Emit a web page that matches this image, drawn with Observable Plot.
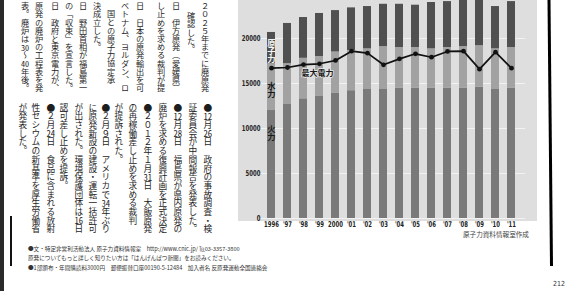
<!DOCTYPE html>
<html><head><meta charset="utf-8">
<script src="https://cdn.jsdelivr.net/npm/d3@7"></script>
<script src="https://cdn.jsdelivr.net/npm/@observablehq/plot@0.6"></script>
<style>
html,body{margin:0;padding:0;background:#fff;}
body{position:relative;width:571px;height:291px;overflow:hidden;font-family:"Noto Sans CJK JP",sans-serif;color:#222;}
#panel{position:absolute;left:238px;top:0;width:299px;height:221px;background:#dedede;}
#chart{position:absolute;left:236px;top:0;}
#deco{position:absolute;left:0;top:0;z-index:30;pointer-events:none;}
#pg{position:absolute;left:553px;top:280px;font-size:7px;color:#333;white-space:nowrap;font-family:'DejaVu Sans Condensed',sans-serif;}
.col{position:absolute;writing-mode:vertical-rl;line-height:1;white-space:nowrap;color:#1e1e1e;}
.up{font-size:8.2px;}
.lo{font-size:8.7px;}
.tcy{text-combine-upright:all;}
.foot{position:absolute;left:28px;font-size:5.6px;white-space:nowrap;color:#333;}
#src{position:absolute;left:463px;top:229px;font-size:6.6px;color:#444;white-space:nowrap;}
</style></head>
<body>
<div id="panel"></div>
<div id="chart"></div>
<div id="pg">212</div>
<div id="src">原子力資料情報室作成</div>
<div class="foot" style="top:245px">●文・特定非営利活動法人 原子力資料情報室　http://www.cnic.jp/ ℡03-3357-3800</div>
<div class="foot" style="top:254px">原発についてもっと詳しく知りたい方は「はんげんぱつ新聞」をお読みください。</div>
<div class="foot" style="top:264px">●1部頒布・年間購読料3000円　郵便振替口座00190-5-12484　加入者名 反原発運動全国連絡会</div>
<div id="text"></div>
<svg id="deco" width="571" height="291" viewBox="0 0 571 291">
  <rect x="0" y="0" width="4" height="291" fill="#2a2a2a"/>
  <rect x="10" y="216" width="2" height="50" fill="#111"/>
  <line x1="549" y1="0" x2="551.5" y2="266" stroke="#000" stroke-width="3"/>
</svg>
<script>
// ---- chart data (万kW) ----
const years = ["1996","1997","1998","1999","2000","2001","2002","2003","2004","2005","2006","2007","2008","2009","2010","2011"];
const yearLabels = ["1996","'97","'98","'99","2000","'01","'02","'03","'04","'05","'06","'07","'08","'09","'10","'11"];
const thermal = [12000,12670,13300,13560,13900,14200,14400,14400,14500,14500,14500,14500,14500,14600,14400,14500]; // 火力
const hydro   = [5200,4530,4500,4440,4600,4470,4450,4700,4500,4500,4350,4500,4600,4600,4450,4500];           // 水力
const nuclear = [3470,4470,4530,4780,4600,4730,4700,4700,4800,4700,5150,5100,5300,5200,4700,5100];           // 原子力
const peak    = [16700,16780,17100,17190,17560,18590,18370,17080,17740,18300,17920,18560,18590,16590,18480,16700]; // 最大電力
const seriesNames = ["火力","水力","原子力"];
const yTicks = [0,5000,10000,15000,20000];
const peakLabel = "最大電力";

// ---- left page text (vertical columns) ----
const upperCols = [
  [205, 2, "２０２５年までに廃原発"],
  [191, 12, "確認した。"],
  [176, 2, "日　伊方原発（愛媛県）"],
  [161, 2, "し止めを求める裁判が提"],
  [140, 2, "日　日本の原発輸出を可"],
  [125, 2, "ベトナム、ヨルダン、ロ"],
  [111, 10, "国との原子力協定承"],
  [97, 2, "決成立した。"],
  [83, 2, "日　野田首相が福島第一"],
  [69, 2, "の「収束」を宣言した。"],
  [55, 2, "日　政府と東京電力が、"],
  [39, 2, "原発の廃炉の工程表を発"],
  [25, 2, "表。廃炉は<span class='tcy'>30</span>〜<span class='tcy'>40</span>年後。"]
];
const lowerCols = [
  [207, "●<span class='tcy'>12</span>月<span class='tcy'>26</span>日　政府の事故調査・検"],
  [192, "証委員会が中間報告を発表した。"],
  [177, "●<span class='tcy'>12</span>月<span class='tcy'>28</span>日　福島県が県内原発の"],
  [162, "廃炉を求める復興計画を正式決定"],
  [147, "●２０１２年１月<span class='tcy'>31</span>日　大飯原発"],
  [132, "の再稼働差し止めを求める裁判"],
  [118, "が提訴された。"],
  [105, "●２月９日　アメリカで<span class='tcy'>34</span>年ぶり"],
  [92, "に原発新設の建設・運転一括許可"],
  [78, "が出された。環境保護団体は<span class='tcy'>16</span>日"],
  [63, "認可差し止めを提訴。"],
  [50, "●２月<span class='tcy'>24</span>日　食品に含まれる放射"],
  [35, "性セシウムの新基準を厚生労働省"],
  [22, "が発表した。"]
];
const tx = document.getElementById("text");
for (const [x, top, t] of upperCols) {
  const d = document.createElement("div");
  d.className = "col up"; d.style.left = (x - 4.1) + "px"; d.style.top = top + "px"; d.innerHTML = t; tx.appendChild(d);
}
for (const [x, t] of lowerCols) {
  const d = document.createElement("div");
  d.className = "col lo"; d.style.left = (x - 4.35) + "px"; d.style.top = "103px"; d.innerHTML = t; tx.appendChild(d);
}

// ---- build tidy data ----
const stackData = years.flatMap((yr, i) => [
  {year: yr, type: seriesNames[0], v: thermal[i]},
  {year: yr, type: seriesNames[1], v: hydro[i]},
  {year: yr, type: seriesNames[2], v: nuclear[i]}
]);
const peakData = years.map((yr, i) => ({year: yr, v: peak[i]}));
const firstYear = stackData.filter(d => d.year === years[0]);
const labelOpts = {fontSize: 8.3, fontWeight: "bold", fontFamily: "Noto Sans CJK JP"};

const tickFont = "'DejaVu Sans Condensed', sans-serif";
const chart = Plot.plot({
  width: 304, height: 229,
  marginLeft: 21.85, marginRight: 14.85, marginTop: 0, marginBottom: 11,
  style: {background: "transparent"},
  x: {type: "band", domain: years, padding: 0.5},
  y: {domain: [0, 24222]},
  color: {domain: seriesNames, range: ["#7a7a7a", "#a2a2a2", "#505050"]},
  marks: [
    Plot.gridY({ticks: yTicks, stroke: "#ffffff", strokeOpacity: 0.6, strokeWidth: 1}),
    Plot.barY(stackData, {x: "year", y: "v", fill: "type", clip: true}),
    Plot.text(firstYear, Plot.stackY({x: "year", y: "v",
      text: d => d.type === "火力" ? null : d.type,
      fill: d => d.type === "原子力" ? "#f4f4f4" : "#1a1a1a", ...labelOpts})),
    Plot.text(firstYear, Plot.stackY({x: "year", y: "v",
      text: d => d.type === "火力" ? d.type : null, dy: -34, fill: "#1a1a1a", ...labelOpts})),
    Plot.line(peakData, {x: "year", y: "v", stroke: "#111", strokeWidth: 1.7}),
    Plot.dot(peakData, {x: "year", y: "v", fill: "#111", r: 2.4}),
    Plot.text(peakData.filter(d => d.year === "1999"), {x: "year", y: "v", text: () => peakLabel,
      dx: -2, dy: 10, fontSize: 8, fontWeight: "bold", fill: "#1a1a1a", stroke: "#e8e8e8", strokeWidth: 1.5,
      fontFamily: "Noto Sans CJK JP"}),
    Plot.axisY({ticks: yTicks, tickSize: 0, tickPadding: -2, tickFormat: d => String(d),
      fontSize: 8, fontWeight: "bold", fontFamily: tickFont, label: null}),
    Plot.axisX({tickSize: 0, tickPadding: 3, tickFormat: d => yearLabels[years.indexOf(d)],
      fontSize: 8, fontWeight: "bold", fontFamily: tickFont, label: null})
  ]
});
const tickSet = new Set([...yearLabels, ...yTicks.map(String)]);
chart.querySelectorAll("text").forEach(t => {
  const s = t.textContent;
  if (seriesNames.includes(s)) {
    t.setAttribute("writing-mode", "tb");
    t.style.writingMode = "vertical-rl";
    t.style.textOrientation = "upright";
    t.removeAttribute("dy");
  } else if (tickSet.has(s)) {
    const tr = t.getAttribute("transform") || "";
    t.setAttribute("transform", (tr + " scale(0.74,1)").trim());
  }
});
document.getElementById("chart").appendChild(chart);
</script>
</body></html>
